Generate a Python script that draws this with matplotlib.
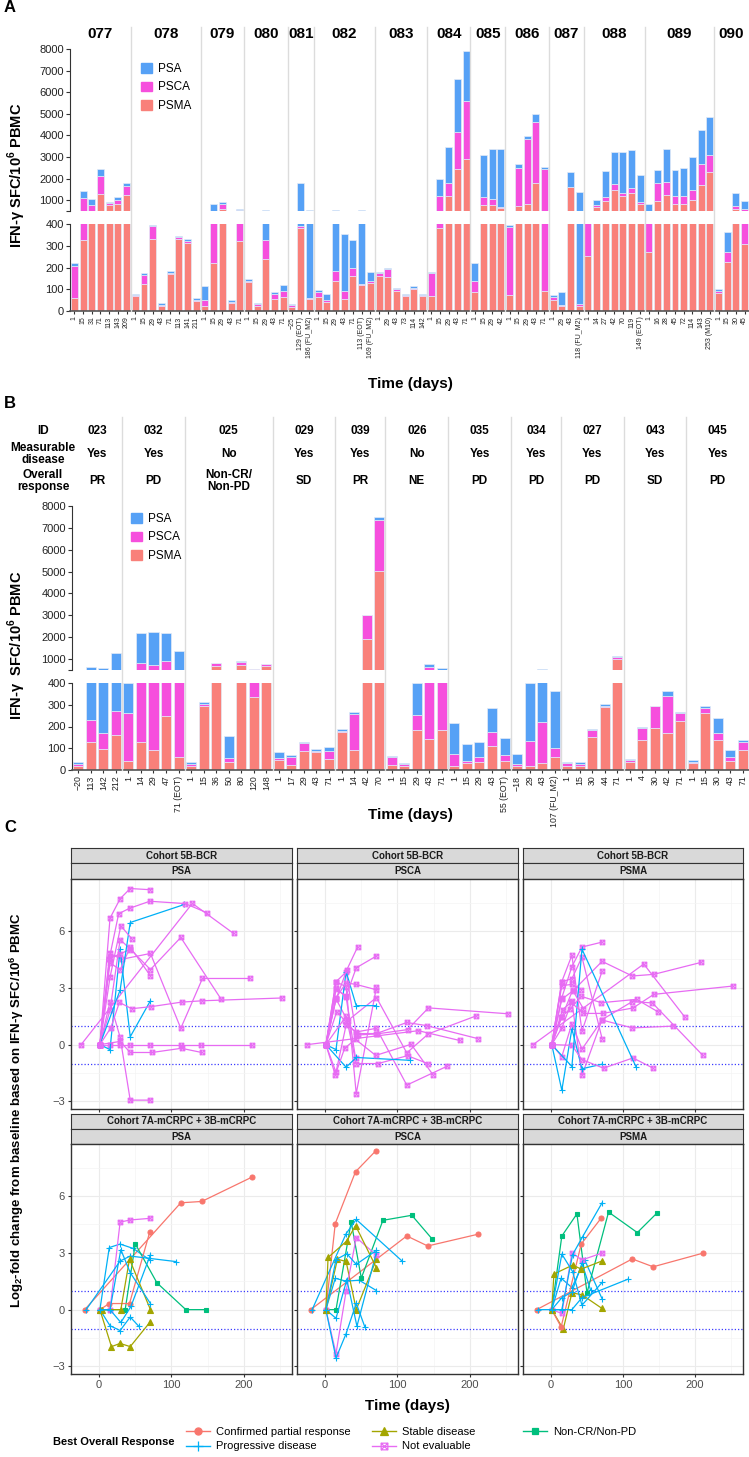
import numpy as np
import matplotlib
matplotlib.use('Agg')
import matplotlib.pyplot as plt
from matplotlib.path import Path
from matplotlib.lines import Line2D
from matplotlib.patches import Patch

plt.rcParams['font.family'] = ['Liberation Sans', 'DejaVu Sans']
plt.rcParams['mathtext.fontset'] = 'custom'
plt.rcParams['mathtext.rm'] = 'Liberation Sans'
plt.rcParams['mathtext.bf'] = 'Liberation Sans:bold'

# ---------------- panel A data (cohort 5B-BCR) ----------------
A_IDS = ['077', '078', '079', '080', '081', '082', '083', '084', '085', '086', '087', '088', '089', '090']
A_NBARS = [7, 8, 5, 5, 3, 7, 6, 5, 4, 5, 4, 7, 8, 4]
A_BOR = ['Not evaluable', 'Not evaluable', 'Not evaluable', 'Progressive disease', 'Not evaluable',
         'Not evaluable', 'Not evaluable', 'Not evaluable', 'Not evaluable', 'Not evaluable',
         'Progressive disease', 'Not evaluable', 'Not evaluable', 'Not evaluable']
A_DAYS = ['1', '15', '31', '71', '113', '143', '209',
          '1', '15', '29', '43', '71', '113', '141', '211',
          '1', '15', '29', '43', '71',
          '1', '15', '29', '43', '71',
          '\u221225', '129 (EOT)', '186 (FU_M2)',
          '1', '15', '29', '43', '71', '113 (EOT)', '169 (FU_M2)',
          '1', '29', '43', '73', '114', '142',
          '1', '15', '29', '43', '71',
          '1', '15', '29', '42',
          '1', '15', '29', '43', '71',
          '1', '29', '43', '118 (FU_M2)',
          '1', '14', '27', '42', '70', '119', '149 (EOT)',
          '1', '16', '28', '45', '72', '114', '143', '253 (M10)',
          '1', '15', '30', '45']
A_PSMA = [62, 327, 450, 1308, 766, 813, 1262,
          68, 125, 332, 22, 170, 329, 313, 46,
          22, 222, 580, 36, 323,
          133, 25, 238, 55, 65,
          20, 383, 55,
          65, 42, 140, 55, 160, 120, 128,
          161, 157, 93, 68, 99, 68,
          68, 380, 1184, 2424, 2904,
          88, 766, 797, 658,
          73, 735, 813, 1804, 91,
          49, 22, 1618, 22,
          255, 690, 952, 1494, 1184, 1339, 844,
          269, 968, 1262, 844, 844, 1030, 1696, 2300,
          83, 227, 611, 309]
A_PSCA = [146, 780, 350, 820, 108, 217, 418,
          4, 40, 57, 6, 6, 9, 8, 5,
          30, 300, 250, 5, 245,
          6, 5, 87, 25, 25,
          6, 10, 7,
          22, 8, 45, 35, 40, 5, 10,
          12, 34, 6, 6, 8, 6,
          105, 800, 620, 1750, 2695,
          49, 388, 280, 30,
          313, 1735, 3005, 2835, 2333,
          16, 7, 10, 9,
          230, 76, 202, 279, 155, 233, 77,
          250, 836, 588, 356, 371, 433, 960, 774,
          8, 42, 124, 287]
A_PSA = [11, 310, 250, 310, 20, 124, 124,
         8, 8, 8, 8, 8, 8, 8, 8,
         61, 290, 80, 8, 8,
         6, 5, 200, 8, 30,
         8, 1410, 470,
         8, 28, 375, 265, 125, 405, 42,
         8, 9, 6, 6, 7, 6,
         8, 820, 1670, 2430, 2325,
         82, 1936, 2277, 2660,
         10, 200, 155, 356, 124,
         8, 59, 700, 1355,
         10, 233, 1208, 1472, 1906, 1751, 1255,
         320, 589, 1503, 1193, 1286, 1518, 1595, 1766,
         8, 94, 620, 388]

# ---------------- panel B data (cohort 7A-mCRPC + 3B-mCRPC) ----------------
B_IDS = ['023', '032', '025', '029', '039', '026', '035', '034', '027', '043', '045']
B_MEAS = ['Yes', 'Yes', 'No', 'Yes', 'Yes', 'No', 'Yes', 'Yes', 'Yes', 'Yes', 'Yes']
B_RESP = ['PR', 'PD', 'Non-CR/\nNon-PD', 'SD', 'PR', 'NE', 'PD', 'PD', 'PD', 'SD', 'PD']
B_BOR = ['Confirmed partial response', 'Progressive disease', 'Non-CR/Non-PD', 'Stable disease',
         'Confirmed partial response', 'Not evaluable', 'Progressive disease', 'Progressive disease',
         'Progressive disease', 'Stable disease', 'Progressive disease']
B_NBARS = [4, 5, 7, 5, 4, 5, 5, 4, 5, 5, 5]
B_DAYS = ['\u221220', '113', '142', '212',
          '1', '14', '29', '47', '71 (EOT)',
          '1', '15', '36', '50', '80', '120', '148',
          '1', '17', '29', '43', '71',
          '1', '14', '42', '70',
          '1', '15', '29', '43', '71',
          '1', '15', '29', '43', '55 (EOT)',
          '\u221218', '29', '43', '107 (FU_M2)',
          '1', '15', '30', '44', '71',
          '1', '4', '30', '42', '71',
          '1', '15', '30', '43', '71']
B_PSMA = [20, 128, 96, 159,
          41, 130, 92, 250, 61,
          20, 296, 667, 37, 712, 336, 700,
          47, 23, 87, 81, 49,
          174, 92, 1924, 5018,
          23, 20, 183, 142, 183,
          20, 31, 38, 110, 41,
          20, 20, 31, 61,
          20, 20, 150, 290, 1000,
          38, 140, 194, 168, 226,
          34, 260, 137, 40, 92]
B_PSCA = [7, 104, 72, 111,
          219, 690, 620, 644, 440,
          6, 6, 150, 19, 158, 190, 80,
          6, 38, 35, 6, 38,
          7, 164, 1090, 2340,
          35, 7, 69, 490, 257,
          53, 9, 22, 67, 28,
          7, 113, 190, 41,
          11, 8, 33, 6, 90,
          8, 54, 99, 174, 37,
          4, 25, 31, 21, 35]
B_PSA = [8, 400, 420, 1030,
         140, 1360, 1545, 1318, 850,
         9, 9, 9, 100, 24, 9, 9,
         31, 8, 9, 8, 20,
         8, 10, 10, 137,
         6, 6, 148, 160, 170,
         144, 80, 67, 110, 78,
         45, 267, 320, 261,
         8, 8, 5, 9, 60,
         3, 3, 3, 19, 3,
         8, 8, 72, 31, 10]

C_PSA, C_PSCA, C_PSMA = '#56A1F6', '#F64FDD', '#F9807A'
EDGE = '#E4EBF6'
SEP = '#DCDCDC'
DARK = '#333333'

W, H = 749, 1457
fig = plt.figure(figsize=(W / 100, H / 100), dpi=100)


def box(x0, y0, x1, y1):
    return [x0 / W, 1 - y1 / H, (x1 - x0) / W, (y1 - y0) / H]


def fx(x):
    return x / W


def fy(y):
    return 1 - y / H


def bar_panel(x0, x1, y_top0, y_top1, y_bot0, y_bot1, psma, psca, psa, days, xfs):
    ax_t = fig.add_axes(box(x0, y_top0, x1, y_top1))
    ax_b = fig.add_axes(box(x0, y_bot0, x1, y_bot1))
    n = len(psma)
    x = np.arange(n)
    psma = np.array(psma, float)
    psca = np.array(psca, float)
    psa = np.array(psa, float)
    for ax in (ax_t, ax_b):
        ax.bar(x, psma, width=0.8, color=C_PSMA, edgecolor=EDGE, linewidth=0.5)
        ax.bar(x, psca, bottom=psma, width=0.8, color=C_PSCA, edgecolor=EDGE, linewidth=0.5)
        ax.bar(x, psa, bottom=psma + psca, width=0.8, color=C_PSA, edgecolor=EDGE, linewidth=0.5)
        ax.set_xlim(-0.5, n - 0.5)
        for s in ('top', 'right'):
            ax.spines[s].set_visible(False)
        ax.spines['left'].set_color(DARK)
        ax.tick_params(axis='y', labelsize=8, length=3, color=DARK, pad=1.5, labelcolor='#222222')
    ax_t.spines['bottom'].set_visible(False)
    ax_t.set_xticks([])
    ax_t.set_ylim(500, 8000)
    ax_t.set_yticks([500] + list(range(1000, 8001, 1000)))
    ax_t.set_yticklabels([''] + [str(v) for v in range(1000, 8001, 1000)])
    ax_b.set_ylim(0, 400)
    ax_b.set_yticks(range(0, 401, 100))
    ax_b.spines['bottom'].set_color('#555555')
    ax_b.spines['bottom'].set_linewidth(1.2)
    ax_b.set_xticks(x)
    ax_b.set_xticklabels(days, rotation=90, fontsize=xfs, color='#222222')
    ax_b.tick_params(axis='x', length=2.5, pad=1.5, color=DARK)
    return ax_t, ax_b


def separators(x0, x1, n, nbars, y0, y1):
    edges = np.concatenate([[0], np.cumsum(nbars)])
    step = (x1 - x0) / n
    for e in edges[1:-1]:
        xp = x0 + e * step
        fig.add_artist(Line2D([fx(xp)] * 2, [fy(y0), fy(y1)], color=SEP, lw=1.0, zorder=0.5))
    centers = [x0 + (a + b) / 2 * step for a, b in zip(edges[:-1], edges[1:])]
    return centers


def bar_legend(x, y):
    hs = [Patch(color=C_PSA), Patch(color=C_PSCA), Patch(color=C_PSMA)]
    fig.legend(hs, ['PSA', 'PSCA', 'PSMA'], loc='upper left', bbox_to_anchor=(fx(x), fy(y)),
               frameon=False, fontsize=8.5, handlelength=0.9, handleheight=0.9,
               handletextpad=0.5, labelspacing=0.55, borderaxespad=0, borderpad=0)


# ---------------- panel A ----------------
fig.text(fx(4), fy(7), 'A', fontsize=12, fontweight='bold', va='center')
nA = len(A_PSMA)
bar_panel(70, 749, 49, 211, 224, 311, A_PSMA, A_PSCA, A_PSA, A_DAYS, 5)
cA = separators(70, 749, nA, A_NBARS, 27, 311)
for cx, pid in zip(cA, A_IDS):
    fig.text(fx(cx), fy(34), pid, ha='center', va='center', fontsize=11, fontweight='bold')
bar_legend(141, 63)
fig.text(fx(17), fy(175), r'IFN-γ SFC/10$^\mathbf{6}$ PBMC', rotation=90, ha='center', va='center',
         fontsize=10.5, fontweight='bold')
fig.text(fx(410), fy(384), 'Time (days)', ha='center', va='center', fontsize=11, fontweight='bold')

# ---------------- panel B ----------------
fig.text(fx(4), fy(403), 'B', fontsize=12, fontweight='bold', va='center')
nB = len(B_PSMA)
bar_panel(72, 749, 506, 670, 683, 770, B_PSMA, B_PSCA, B_PSA, B_DAYS, 6.3)
cB = separators(72, 749, nB, B_NBARS, 417, 770)
hdr = dict(ha='center', va='center', fontsize=8.5, fontweight='bold', linespacing=1.0)
fig.text(fx(43), fy(431), 'ID', **hdr)
fig.text(fx(43), fy(454), 'Measurable\ndisease', **hdr)
fig.text(fx(43), fy(481), 'Overall\nresponse', **hdr)
for cx, pid, m, r in zip(cB, B_IDS, B_MEAS, B_RESP):
    fig.text(fx(cx), fy(431), pid, **hdr)
    fig.text(fx(cx), fy(454), m, **hdr)
    fig.text(fx(cx), fy(481), r, **hdr)
bar_legend(131, 513)
fig.text(fx(17), fy(645), r'IFN-γ  SFC/10$^\mathbf{6}$ PBMC', rotation=90, ha='center', va='center',
         fontsize=10.5, fontweight='bold')
fig.text(fx(410), fy(815), 'Time (days)', ha='center', va='center', fontsize=11, fontweight='bold')

# ---------------- panel C ----------------
fig.text(fx(4), fy(827), 'C', fontsize=12, fontweight='bold', va='center')

boxcross = Path([(-1, -1), (1, -1), (1, 1), (-1, 1), (-1, -1), (1, 1), (-1, 1), (1, -1)],
                [Path.MOVETO, Path.LINETO, Path.LINETO, Path.LINETO, Path.LINETO, Path.LINETO,
                 Path.MOVETO, Path.LINETO])
BOR_STYLE = {
    'Confirmed partial response': ('#F8766D', 'o', 3.6, True),
    'Stable disease': ('#A3A500', '^', 3.8, True),
    'Non-CR/Non-PD': ('#00BF7D', 's', 3.2, True),
    'Progressive disease': ('#00B0F6', '+', 5.0, False),
    'Not evaluable': ('#E76BF3', boxcross, 3.3, False),
}


def day_num(s):
    return int(s.split()[0].replace('\u2212', '-'))


cohorts = [
    ('Cohort 5B-BCR', A_NBARS, A_DAYS, {'PSA': A_PSA, 'PSCA': A_PSCA, 'PSMA': A_PSMA}, A_BOR),
    ('Cohort 7A-mCRPC + 3B-mCRPC', B_NBARS, B_DAYS, {'PSA': B_PSA, 'PSCA': B_PSCA, 'PSMA': B_PSMA}, B_BOR),
]
cols = [(71, 292), (297, 518), (523, 743)]
rows = [(848, 863, 879, 1109), (1114, 1129, 1144, 1374)]
antigens = ['PSA', 'PSCA', 'PSMA']

for ri, (cname, nbars, days, vals, bors) in enumerate(cohorts):
    s0, s1, p0, p1 = rows[ri]
    edges = np.concatenate([[0], np.cumsum(nbars)])
    for ci, ag in enumerate(antigens):
        x0, x1 = cols[ci]
        for (ya, yb, lab) in ((s0, s1, cname), (s1, p0, ag)):
            sax = fig.add_axes(box(x0, ya, x1, yb))
            sax.set_facecolor('#D9D9D9')
            sax.set_xticks([])
            sax.set_yticks([])
            for sp in sax.spines.values():
                sp.set_color(DARK)
                sp.set_linewidth(0.8)
            sax.text(0.5, 0.5, lab, ha='center', va='center', fontsize=7, fontweight='bold',
                     color='#1A1A1A', transform=sax.transAxes)
        ax = fig.add_axes(box(x0, p0, x1, p1))
        ax.set_xlim(-39, 267)
        ax.set_ylim(-3.4, 8.75)
        ax.set_xticks([0, 100, 200])
        ax.set_yticks([-3, 0, 3, 6])
        ax.set_xticks([50, 150, 250], minor=True)
        ax.set_yticks([-1.5, 1.5, 4.5, 7.5], minor=True)
        ax.grid(which='major', color='#EBEBEB', lw=0.8)
        ax.grid(which='minor', color='#F4F4F4', lw=0.5)
        ax.set_axisbelow(True)
        for sp in ax.spines.values():
            sp.set_color(DARK)
            sp.set_linewidth(1.0)
        ax.tick_params(which='major', length=2.5, color=DARK, labelsize=8, labelcolor='#4D4D4D', pad=2)
        ax.tick_params(which='minor', length=0)
        if ci > 0:
            ax.set_yticklabels([])
        else:
            ax.set_yticklabels(['\u22123', '0', '3', '6'])
        if ri == 0:
            ax.set_xticklabels([])
        for yl in (1, -1):
            ax.axhline(yl, color='#3B3BFF', lw=0.9, ls=(0, (1, 1.6)), zorder=1.5)
        v = np.array(vals[ag], float)
        for pi in range(len(nbars)):
            a, b = edges[pi], edges[pi + 1]
            t = [day_num(s) for s in days[a:b]]
            y = np.log2(v[a:b] / v[a])
            col, mk, ms, filled = BOR_STYLE[bors[pi]]
            ax.plot(t, y, color=col, lw=0.9, marker=mk, ms=ms, mew=0.8,
                    mfc=col if filled else 'none', mec=col, zorder=3)

fig.text(fx(17), fy(1110), r'Log$_\mathbf{2}$-fold change from baseline based on IFN-γ SFC/10$^\mathbf{6}$ PBMC',
         rotation=90, ha='center', va='center', fontsize=9.5, fontweight='bold')
fig.text(fx(407), fy(1406), 'Time (days)', ha='center', va='center', fontsize=11, fontweight='bold')

fig.text(fx(53), fy(1442), 'Best Overall Response', ha='left', va='center', fontsize=8, fontweight='bold')
legend_cols = [(186, ['Confirmed partial response', 'Progressive disease']),
               (372, ['Stable disease', 'Not evaluable']),
               (523, ['Non-CR/Non-PD'])]
for lx, keys in legend_cols:
    hs = []
    for k in keys:
        col, mk, ms, filled = BOR_STYLE[k]
        hs.append(Line2D([], [], color=col, lw=1.0, marker=mk, ms=ms + 1.5, mew=0.9,
                         mfc=col if filled else 'none', mec=col))
    fig.legend(hs, keys, loc='upper left', bbox_to_anchor=(fx(lx), fy(1427)),
               frameon=False, fontsize=8, handlelength=2.2, handletextpad=0.5,
               labelspacing=0.4, borderaxespad=0, borderpad=0)

fig.savefig('out.png', dpi=100)
